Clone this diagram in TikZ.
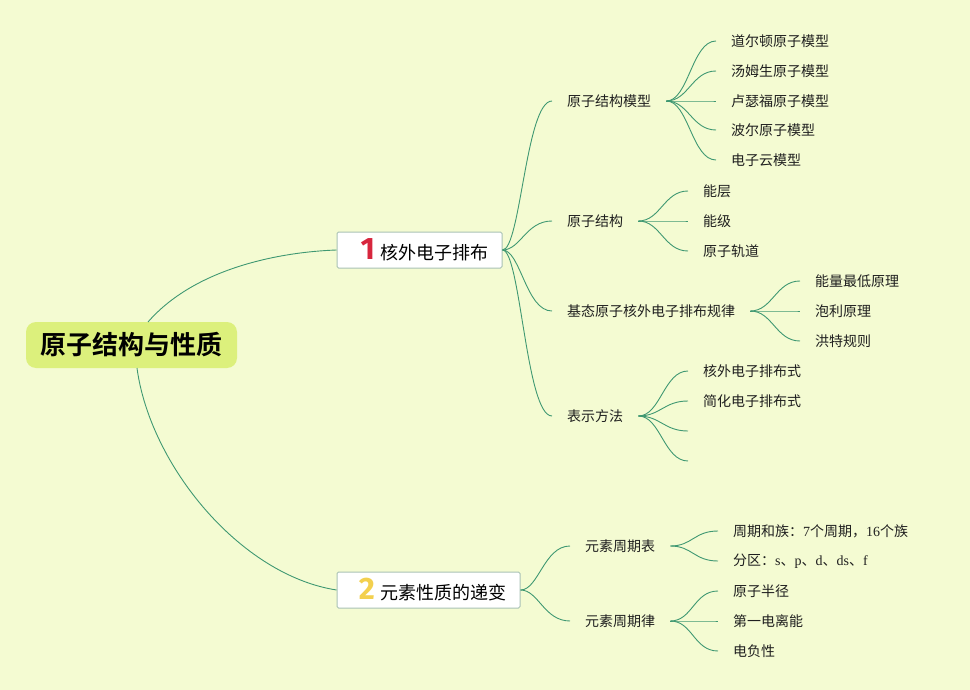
\documentclass[tikz,border=0pt]{standalone}
\usepackage{fontspec}
\setmainfont{Noto Sans CJK SC}
\newfontfamily\cjkbold{Noto Sans CJK SC Bold}
\newfontfamily\latserif{Liberation Serif}
\newfontfamily\numfont{Fira Sans}
\newcommand\lat[1]{{\latserif #1}}
\newcommand\bignum[2]{{\numfont\bfseries\fontsize{31}{31}\selectfont\color{#1}#2}}
\definecolor{bg}{HTML}{F4FBD2}
\definecolor{rootfill}{HTML}{DCF07C}
\definecolor{boxline}{HTML}{A9C2B4}
\definecolor{lk}{HTML}{3F9872}
\definecolor{numred}{HTML}{D7263D}
\definecolor{numyel}{HTML}{F3D04E}
\newcommand\mmbranch[2]{\draw[link] (#1.east) .. controls +(22,0) and +(-24,0) .. (#2.west);}
\newcommand\mmtop[2]{\draw[link] (#1.east) .. controls +(18,0) and +(-26,0) .. (#2.west);}
\begin{document}
\begin{tikzpicture}[x=1pt,y=-1pt,
  link/.style={draw=lk, line width=0.9pt},
  leaf/.style={anchor=west, inner xsep=15pt, inner ysep=0pt, text=black!88,
    font=\fontsize{14}{14}\selectfont},
  rootbox/.style={fill=rootfill, rounded corners=10pt, minimum width=211pt,
    minimum height=46pt, inner sep=0pt, font=\cjkbold\fontsize{26}{26}\selectfont},
  mainbox/.style={draw=boxline, fill=white, line width=1pt, rounded corners=1.5pt,
    minimum height=36pt, inner sep=0pt, font=\fontsize{18}{18}\selectfont}]
\useasboundingbox (0,0) rectangle (970,690);
\fill[bg] (0,0) rectangle (970,690);

% root and main branches
\node[rootbox] (root) at (131.5,345) {原子结构与性质};
\node[mainbox, minimum width=165pt] (b1) at (419.5,250)
  {\makebox[165pt][l]{\hspace{43pt}\llap{\bignum{numred}{1}\hspace{5pt}}核外电子排布}};
\node[mainbox, minimum width=183pt] (b2) at (428.5,590)
  {\makebox[183pt][l]{\hspace{43pt}\llap{\bignum{numyel}{2}\hspace{5pt}}元素性质的递变}};

\coordinate (r1) at (148,322);
\coordinate (r2) at (137,368);
\draw[link] (r1) .. controls (195,268) and (280,252) .. (b1.west);
\draw[link] (r2) .. controls (150,465) and (240,575) .. (b2.west);

% branch 1 children
\node[leaf] (m1) at (552,101) {原子结构模型};
\node[leaf] (m2) at (552,221) {原子结构};
\node[leaf] (m3) at (552,311) {基态原子核外电子排布规律};
\node[leaf] (m4) at (552,416) {表示方法};
\foreach \m in {m1,m2,m3,m4} {\mmtop{b1}{\m}}

\node[leaf] (m1a) at (716,41)  {道尔顿原子模型};
\node[leaf] (m1b) at (716,71)  {汤姆生原子模型};
\node[leaf] (m1c) at (716,101) {卢瑟福原子模型};
\node[leaf] (m1d) at (716,130) {波尔原子模型};
\node[leaf] (m1e) at (716,160) {电子云模型};
\foreach \c in {m1a,m1b,m1c,m1d,m1e} {\mmbranch{m1}{\c}}

\node[leaf] (m2a) at (688,191) {能层};
\node[leaf] (m2b) at (688,221) {能级};
\node[leaf] (m2c) at (688,251) {原子轨道};
\foreach \c in {m2a,m2b,m2c} {\mmbranch{m2}{\c}}

\node[leaf] (m3a) at (800,281) {能量最低原理};
\node[leaf] (m3b) at (800,311) {泡利原理};
\node[leaf] (m3c) at (800,341) {洪特规则};
\foreach \c in {m3a,m3b,m3c} {\mmbranch{m3}{\c}}

\node[leaf] (m4a) at (688,371) {核外电子排布式};
\node[leaf] (m4b) at (688,401) {简化电子排布式};
\node[leaf, inner xsep=0pt] (m4c) at (688,431) {};
\node[leaf, inner xsep=0pt] (m4d) at (688,461) {};
\foreach \c in {m4a,m4b,m4c,m4d} {\mmbranch{m4}{\c}}

% branch 2 children
\node[leaf] (n1) at (570,546) {元素周期表};
\node[leaf] (n2) at (570,621) {元素周期律};
\foreach \m in {n1,n2} {\mmtop{b2}{\m}}

\node[leaf] (n1a) at (718,531) {周期和族：\lat{7}个周期，\lat{16}个族};
\node[leaf] (n1b) at (718,561) {分区：\lat{s}、\lat{p}、\lat{d}、\lat{ds}、\lat{f}};
\foreach \c in {n1a,n1b} {\mmbranch{n1}{\c}}

\node[leaf] (n2a) at (718,591) {原子半径};
\node[leaf] (n2b) at (718,621) {第一电离能};
\node[leaf] (n2c) at (718,651) {电负性};
\foreach \c in {n2a,n2b,n2c} {\mmbranch{n2}{\c}}
\end{tikzpicture}
\end{document}
